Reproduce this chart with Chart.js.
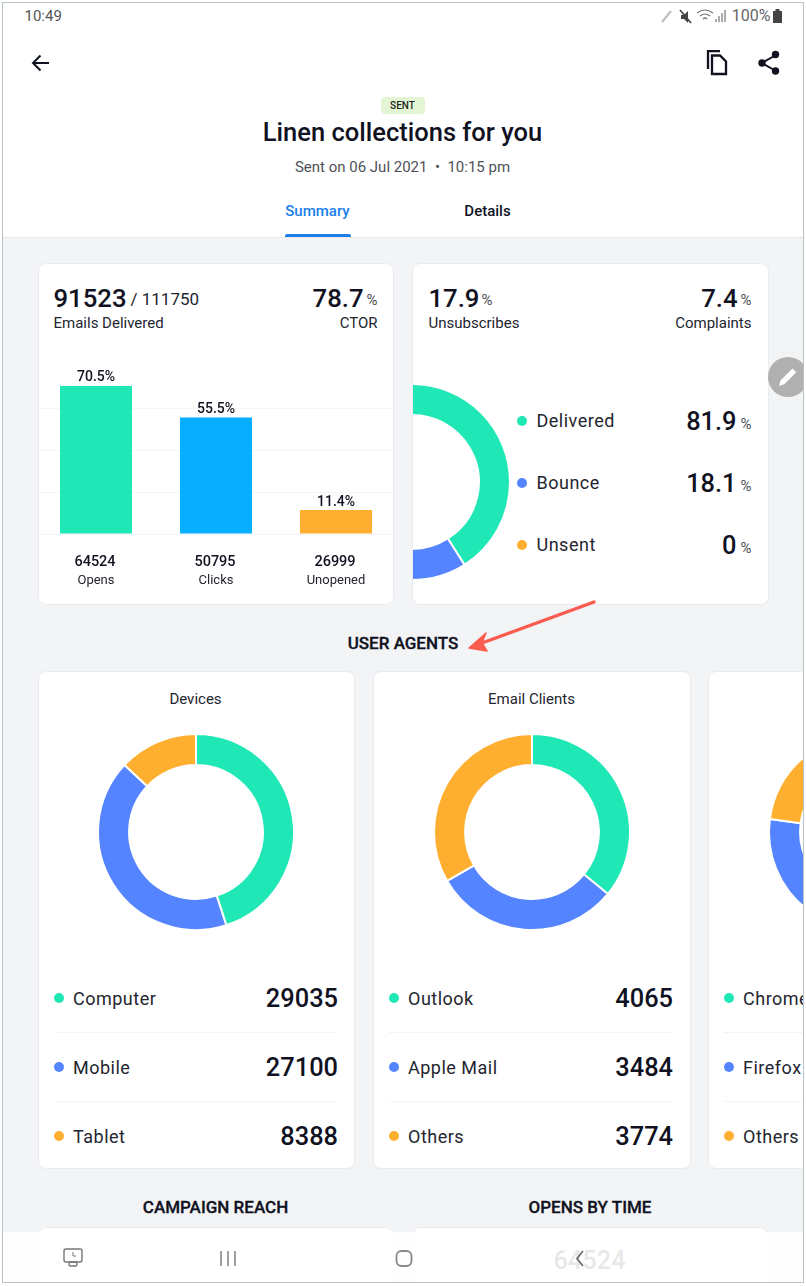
<!DOCTYPE html>
<html><head><meta charset="utf-8">
<script src="https://cdn.jsdelivr.net/npm/chart.js"></script>
<style>
html,body{margin:0;padding:0;background:#fff;width:806px;height:1286px;overflow:hidden;font-family:Roboto,sans-serif;color:#10121f}
#frame{position:absolute;left:2px;top:2px;width:800px;height:1279px;border:1.5px solid #b9c4c9;overflow:hidden;background:#f2f4f6}
#page{position:absolute;left:-3.5px;top:-3.5px;width:806px;height:1286px}
.box{position:absolute;background:#fff;overflow:hidden;box-sizing:border-box}
.card{border:1px solid #e9ebee;border-radius:8px}
.t{position:absolute;white-space:nowrap;transform:translateY(-50%);line-height:1.2}
.r{transform:translate(-100%,-50%)}
.c{transform:translate(-50%,-50%)}
.dot{position:absolute;width:10px;height:10px;border-radius:50%;transform:translate(-50%,-50%)}
.sep{position:absolute;height:1px;background:#f3f4f6}
canvas{position:absolute;display:block}
svg{position:absolute;overflow:visible}
</style></head><body>
<div id="frame"><div id="page">
<div class="box" style="left:0;top:0;width:806px;height:237px"></div>
<div class="box" style="left:0;top:237px;width:806px;height:1px;background:#e6e8eb"></div>
<div class="box" style="left:285px;top:234px;width:66px;height:3px;background:#1a7fe8;border-radius:2px 2px 0 0"></div>
<div class="box" style="left:381px;top:97px;width:44px;height:17px;background:#e4f5d6;border-radius:4px"></div>

<div class="box card" id="c1" style="left:38px;top:263px;width:356px;height:342px"><canvas id="bar" width="360" height="228"></canvas></div>
<div class="box card" id="c2" style="left:412px;top:263px;width:357px;height:342px"><canvas id="deliv"></canvas></div>
<div class="box card" id="d1" style="left:38px;top:671px;width:317px;height:498px"><canvas id="dev"></canvas></div>
<div class="box card" id="d2" style="left:373px;top:671px;width:318px;height:498px"><canvas id="cli"></canvas></div>
<div class="box card" id="d3" style="left:708px;top:671px;width:318px;height:498px"><canvas id="bro"></canvas></div>
<div class="box card" style="left:38px;top:1227px;width:356px;height:200px"></div>
<div class="box card" style="left:412px;top:1227px;width:356px;height:200px"></div>
<div id="text"></div>

<div class="box" style="left:0;top:1232px;width:806px;height:54px;background:rgba(255,255,255,.9)"></div>

<svg style="left:0;top:0" width="806" height="1286" fill="none">
<path d="M49 63H33M40.5 55.5L33 63l7.5 7.5" stroke="#10121f" stroke-width="2"/>
<path d="M708 69V51.200h12" stroke="#10121f" stroke-width="2.3"/><path d="M712 55.500h8l6 6v12.500h-14z" stroke="#10121f" stroke-width="2.3"/>
<path d="M776 55L762 63l14 8" stroke="#10121f" stroke-width="2"/><circle cx="775.5" cy="54.5" r="3.7" fill="#10121f"/><circle cx="762" cy="63" r="3.7" fill="#10121f"/><circle cx="775.500" cy="71" r="3.7" fill="#10121f"/>
<path d="M662 22l9-11" stroke="#c0c0c0" stroke-width="2.4"/>
<path d="M680 10l11 13" stroke="#444" stroke-width="1.7"/><path d="M681 19v-4h3l4-4v12l-4-4z" fill="#444"/>
<path d="M697 13q8-6 16 0M700 16q5-4 10 0M703 19q2-2 4 0" stroke="#777" stroke-width="1.2"/>
<path d="M716 22v-3M719 22v-6M722 22v-9M725 22v-12" stroke="#777" stroke-width="1.2"/>
<rect x="773" y="11" width="9" height="12" fill="#444"/><rect x="775.5" y="9" width="4" height="2" fill="#444"/>
<circle cx="788" cy="377" r="20" fill="#b0b0b0"/><path d="M779 386l1.500-5.500 12-12 3.800 3.800-12 12z" fill="#fff"/>
<path d="M594 602L482 643" stroke="#fa5c50" stroke-width="3.4" stroke-linecap="round"/><path d="M469 648L486 633L482 643L487 651Z" fill="#fa5c50" stroke="#fa5c50" stroke-width="1.5" stroke-linejoin="round"/>
<rect x="64" y="1249" width="18" height="13" rx="2" stroke="#777" stroke-width="1.4"/><rect x="69" y="1262" width="8" height="4" rx="1.5" stroke="#777" stroke-width="1.4"/><path d="M73 1252v4h3" stroke="#777" stroke-width="1"/>
<path d="M221 1251v15M228 1251v15M235 1251v15" stroke="#888" stroke-width="1.6"/>
<rect x="396.500" y="1251" width="15" height="15" rx="5" stroke="#888" stroke-width="1.8"/>
<path d="M583 1251l-6 7.500 6 7.500" stroke="#666" stroke-width="1.6"/>
</svg>
</div></div>

<script>
// ---- chart data ----
const barCategories = ["Opens", "Clicks", "Unopened"];
const barPercents = [70.5, 55.5, 11.4];
const barCounts = ["64524", "50795", "26999"];
const barColors = ["#1fe8b6", "#08aeff", "#ffaf30"];
const barTicks = [0, 20, 40, 60];

const deliveryLabels = ["Delivered", "Bounce", "Unsent"];
const deliveryValues = [81.9, 18.1, 0];

const deviceLabels = ["Computer", "Mobile", "Tablet"];
const deviceValues = [29035, 27100, 8388];

const clientLabels = ["Outlook", "Apple Mail", "Others"];
const clientValues = [4065, 3484, 3774];

const browserLabels = ["Chrome", "Firefox", "Others"];
const browserValues = [4400, 3310, 2290];   // counts cut off in the picture: estimated from the slices

const donutColors = ["#1fe8b6", "#5484ff", "#ffaf30"];

// ---- page text ----
const host = document.getElementById('text');
function T(x, y, s, size, weight, color, align, extra) {
  const e = document.createElement('div');
  e.className = 't' + (align ? ' ' + align : '');
  e.textContent = s;
  e.style.cssText = `left:${x}px;top:${y + 0.7}px;font-size:${size}px;font-weight:${weight || 400};color:${color || '#10121f'};${extra || ''}`;
  host.appendChild(e);
}
function dot(x, y, c) {
  const e = document.createElement('div');
  e.className = 'dot'; e.style.cssText = `left:${x}px;top:${y}px;background:${c}`;
  host.appendChild(e);
}
function sep(x, y, w) {
  const e = document.createElement('div');
  e.className = 'sep'; e.style.cssText = `left:${x}px;top:${y}px;width:${w}px`;
  host.appendChild(e);
}
const grey = '#4e5159';
const headStroke = '-webkit-text-stroke:.3px #10121f;';
T(25, 16, '10:49', 15, 400, '#555');
T(771, 16, '100%', 16, 400, '#666', 'r');
T(403, 105.5, 'SENT', 10, 500, '#1c2a1c', 'c');
T(403, 132, 'Linen collections for you', 25.5, 500, '#10121f', 'c');
T(403, 167, 'Sent on 06 Jul 2021  •  10:15 pm', 15, 400, grey, 'c', 'white-space:pre;');
T(318, 211, 'Summary', 15, 500, '#1a7fe8', 'c');
T(488, 211, 'Details', 15, 500, '#10121f', 'c');

T(54, 298, '91523', 25.7, 500);
T(131, 299, '/ 111750', 17, 400, '#23252f');
T(54, 323, 'Emails Delivered', 15, 400, '#23252f');
T(364, 298, '78.7', 25.7, 500, null, 'r');
T(378, 300, '%', 15, 400, grey, 'r');
T(378, 323, 'CTOR', 15, 400, '#23252f', 'r');

T(429, 298, '17.9', 25.7, 500);
T(482, 300, '%', 15, 400, grey);
T(429, 323, 'Unsubscribes', 15, 400, '#23252f');
T(738, 298, '7.4', 25.7, 500, null, 'r');
T(752, 300, '%', 15, 400, grey, 'r');
T(752, 323, 'Complaints', 15, 400, '#23252f', 'r');

const deliveryRows = [421, 483, 545];
deliveryLabels.forEach((l, i) => {
  dot(522, deliveryRows[i], donutColors[i]);
  T(537, deliveryRows[i], l, 18, 400, '#23252f', '', 'letter-spacing:.5px;');
  T(737, deliveryRows[i], String(deliveryValues[i]), 25.4, 500, null, 'r');
  T(752, deliveryRows[i] + 3, '%', 15, 400, grey, 'r');
});

T(403.5, 643, 'USER AGENTS', 17, 500, '#10121f', 'c', headStroke);
T(196, 699, 'Devices', 15, 400, '#23252f', 'c');
T(532, 699, 'Email Clients', 15, 400, '#23252f', 'c');

const legendRows = [998, 1067, 1136];
function legend(dx, labels, values) {
  labels.forEach((l, i) => {
    dot(dx, legendRows[i], donutColors[i]);
    T(dx + 14.5, legendRows[i] + 0.5, l, 18, 400, '#23252f', '', 'letter-spacing:.5px;');
    T(dx + 279.5, legendRows[i], String(values[i]), 25.4, 500, null, 'r');
    if (i < 2) sep(dx - 5, legendRows[i] + 34, 284);
  });
}
legend(59, deviceLabels, deviceValues);
legend(394, clientLabels, clientValues);
legend(729, browserLabels, browserValues);

T(216, 1207, 'CAMPAIGN REACH', 17, 500, '#10121f', 'c', headStroke);
T(590.5, 1207, 'OPENS BY TIME', 17, 500, '#10121f', 'c', headStroke);
T(590, 1260, '64524', 25.4, 500, '#10121f', 'c');

// ---- charts ----
Chart.defaults.animation = false;
Chart.defaults.font.family = 'Roboto, sans-serif';

const barLabelPlugin = {
  id: 'barLabels',
  afterDatasetsDraw(chart) {
    const ctx = chart.ctx, meta = chart.getDatasetMeta(0);
    ctx.save();
    ctx.textAlign = 'center';
    ctx.textBaseline = 'middle';
    meta.data.forEach((bar, i) => {
      ctx.fillStyle = '#10121f';
      ctx.font = '500 14px Roboto, sans-serif';
      ctx.fillText(barPercents[i] + '%', bar.x, bar.y - 8);
      ctx.font = '500 14.5px Roboto, sans-serif';
      ctx.fillText(barCounts[i], bar.x - 1, chart.scales.y.bottom + 28);
    });
    ctx.restore();
  }
};

const barCanvas = document.getElementById('bar');
barCanvas.style.left = '-3px';
barCanvas.style.top = '102px';
new Chart(barCanvas, {
  type: 'bar',
  data: { labels: barCategories, datasets: [{ data: barPercents, backgroundColor: barColors, barPercentage: 0.6, categoryPercentage: 1 }] },
  options: {
    responsive: false,
    layout: { padding: 0 },
    plugins: { legend: { display: false }, tooltip: { enabled: false } },
    scales: {
      x: {
        afterFit(s) { s.height = 60; s.paddingLeft = 0; s.paddingRight = 0; },
        grid: { display: false },
        border: { display: false },
        ticks: { padding: 31, maxRotation: 0, autoSkip: false, color: '#23252f', font: { size: 13 } }
      },
      y: {
        min: 0, max: 80,
        afterBuildTicks(s) { s.ticks = barTicks.map(v => ({ value: v })); },
        grid: { color: '#f4f5f7', drawTicks: false },
        border: { display: false },
        ticks: { display: false }
      }
    }
  },
  plugins: [barLabelPlugin]
});

function donut(id, labels, values, rotation, left, top) {
  const c = document.getElementById(id);
  c.width = 210; c.height = 210;
  c.style.left = left + 'px';
  c.style.top = top + 'px';
  new Chart(c, {
    type: 'doughnut',
    data: { labels, datasets: [{ data: values, backgroundColor: donutColors, borderColor: '#fff', borderWidth: 2 }] },
    options: {
      responsive: false,
      radius: 98, cutout: 71, rotation,
      plugins: { legend: { display: false }, tooltip: { enabled: false } }
    }
  });
}
donut('deliv', deliveryLabels, deliveryValues, -147.2, -106, 113.5);
donut('dev', deviceLabels, deviceValues, 0, 52, 55.5);
donut('cli', clientLabels, clientValues, 0, 53, 55.5);
donut('bro', browserLabels, browserValues, 0, 53, 55.5);
</script>
</body></html>
